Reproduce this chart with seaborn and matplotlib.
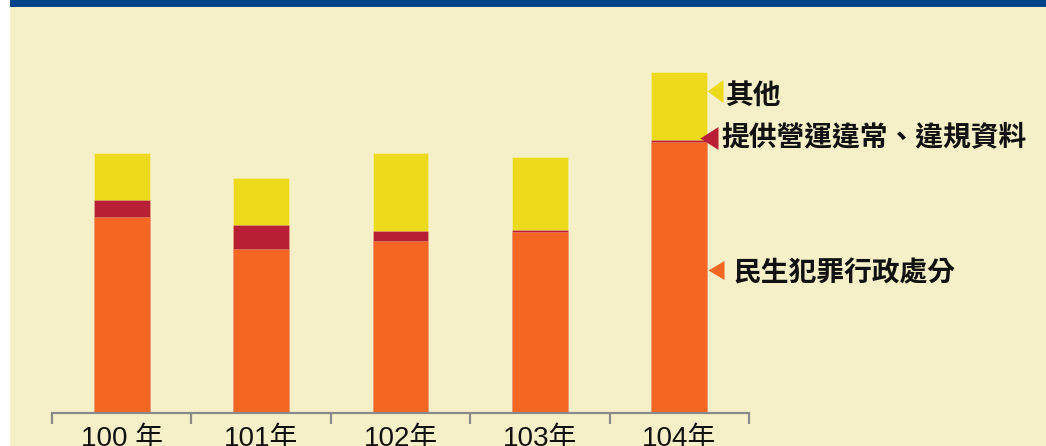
import matplotlib
matplotlib.use("Agg")
import matplotlib.pyplot as plt
import seaborn as sns
import pandas as pd
from matplotlib.patches import Rectangle

# ---- data ----
years = ["100 年", "101年", "102年", "103年", "104年"]
civil_admin = [196, 164, 172, 181, 271]      # 民生犯罪行政處分
irregular_ops = [17, 24, 10, 2, 2]           # 提供營運違常、違規資料
others = [47, 47, 78, 73, 68]                # 其他
series_names = ["民生犯罪行政處分", "提供營運違常、違規資料", "其他"]

c_orange = "#F36722"
c_red = "#B91F34"
c_yellow = "#EDDA1A"
bg = "#F5F0C8"
blue = "#00438A"

sns.set_theme(style="white")
plt.rcParams["font.family"] = ["Liberation Sans", "Noto Sans CJK TC", "DejaVu Sans"]

W, H = 1046, 446
fig = plt.figure(figsize=(W / 100, H / 100), dpi=100)
fig.patch.set_facecolor(bg)
fig.patches.append(Rectangle((0, 0), 10 / W, 1, transform=fig.transFigure,
                             facecolor="white", edgecolor="none", zorder=0))
fig.patches.append(Rectangle((10 / W, (H - 7) / H), 1, 7 / H, transform=fig.transFigure,
                             facecolor=blue, edgecolor="none", zorder=0))

ax = fig.add_axes([52 / W, 33 / H, 697 / W, 400 / H])
ax.set_facecolor("none")

df = pd.DataFrame({"year": years, "a": civil_admin, "b": irregular_ops, "c": others})
df["ab"] = df["a"] + df["b"]
df["abc"] = df["ab"] + df["c"]

for col, color in [("abc", c_yellow), ("ab", c_red), ("a", c_orange)]:
    sns.barplot(data=df, x="year", y=col, order=years, color=color, saturation=1,
                width=0.4, ax=ax, edgecolor=(1, 1, 1, 0.25), linewidth=0.6)

ax.set_xlim(-0.5, len(years) - 0.5)
ax.set_ylim(0, 400)
ax.set_xlabel("")
ax.set_ylabel("")
ax.set_yticks([])
for s in ["left", "right", "top"]:
    ax.spines[s].set_visible(False)
ax.spines["bottom"].set_color("#8A8A8A")
ax.spines["bottom"].set_linewidth(1.6)
ax.spines["bottom"].set_zorder(6)

ax.set_xticks(range(len(years)))
ax.set_xticklabels(years, fontsize=20, color="#111111")
ax.tick_params(axis="x", which="major", length=0, pad=9)
ax.set_xticks([i - 0.5 for i in range(len(years) + 1)], minor=True)
ax.tick_params(axis="x", which="minor", bottom=True, length=8, width=1.6,
               color="#8A8A8A", direction="out")

# ---- callouts on the last bar ----
last = len(years) - 1
edge = last + 0.2
px_per_unit = 697 / len(years)


def tri(w, h):
    m = max(w, h / 2)
    verts = [(0, 0), (w / m, h / 2 / m), (w / m, -h / 2 / m), (0, 0)]
    return verts, 2 * m * 72 / 100


callouts = [
    # (label, color, tip offset px, tri w, tri h, tri y, text offset px, text y)
    (series_names[2], c_yellow, 0, 16, 23, 322, 19, 317),
    (series_names[1], c_red, -7, 18, 23, 275, 14, 276),
    (series_names[0], c_orange, 1, 16, 19, 143, 26, 140),
]
for label, color, dx, w, h, ty, tdx, txty in callouts:
    verts, ms = tri(w, h)
    ax.plot([edge + dx / px_per_unit], [ty], marker=verts, markersize=ms, color=color,
            markeredgewidth=0, linestyle="none", clip_on=False, zorder=5)
    ax.text(edge + tdx / px_per_unit, txty, label, ha="left", va="center",
            fontsize=20, fontweight="bold", color="#111111",
            family=["Noto Sans CJK TC", "DejaVu Sans"], clip_on=False)

fig.savefig("out.png", dpi=100, facecolor=fig.get_facecolor())
